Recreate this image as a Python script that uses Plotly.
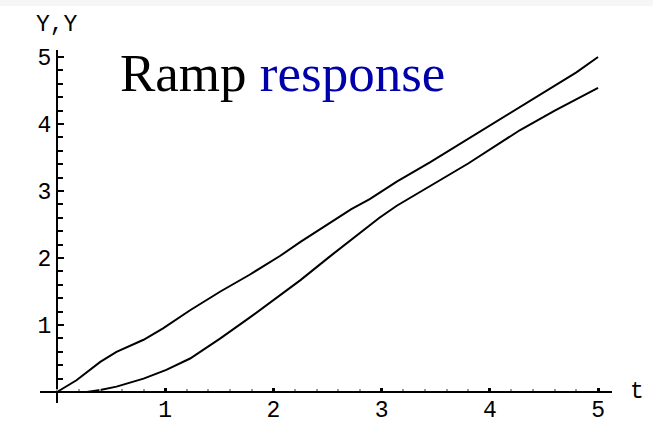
import plotly.graph_objects as go

# Ramp response of the two outputs, sampled over t in [0, 5]
t_fast = [0, 0.18, 0.4, 0.55, 0.8, 0.98, 1.23, 1.51, 1.78, 2.06, 2.25, 2.52, 2.72,
          2.89, 3.14, 3.45, 3.8, 4.19, 4.5, 4.8, 5.0]
y_fast = [0, 0.175, 0.45, 0.60, 0.78, 0.95, 1.22, 1.50, 1.75, 2.03, 2.24, 2.52, 2.73,
          2.88, 3.14, 3.43, 3.78, 4.17, 4.48, 4.77, 5.0]

t_slow = [0, 0.275, 0.4, 0.55, 0.8, 1.01, 1.23, 1.51, 1.78, 2.06, 2.25, 2.52, 2.75,
          2.98, 3.14, 3.45, 3.8, 4.28, 4.6, 5.0]
y_slow = [0, 0.0, 0.03, 0.08, 0.2, 0.33, 0.5, 0.8, 1.11, 1.45, 1.67, 2.02, 2.31,
          2.6, 2.78, 3.07, 3.41, 3.91, 4.2, 4.54]

tick_vals = [1, 2, 3, 4, 5]
tick_text = ["1", "2", "3", "4", "5"]

W, H = 653, 423
L, R, T, B = 40, 41, 50, 20
pw, ph = W - L - R, H - T - B

x_range = [-0.157, 5.129]
y_range = [-0.164, 5.104]

mono = "Liberation Mono, Courier New, monospace"

fig = go.Figure()
for tx, ty in ((t_fast, y_fast), (t_slow, y_slow)):
    fig.add_trace(go.Scatter(x=tx, y=ty, mode="lines",
                             line=dict(color="black", width=2),
                             showlegend=False, hoverinfo="skip"))

x0_frac = (0 - x_range[0]) / (x_range[1] - x_range[0])
y0_frac = (0 - y_range[0]) / (y_range[1] - y_range[0])

fig.update_layout(
    width=W, height=H,
    margin=dict(l=L, r=R, t=T, b=B, autoexpand=False),
    paper_bgcolor="white", plot_bgcolor="white",
    xaxis=dict(range=x_range, anchor="free", position=y0_frac, automargin=False,
               showgrid=False, zeroline=False,
               showline=True, linecolor="black", linewidth=2,
               tickmode="array", tickvals=tick_vals, ticktext=tick_text,
               ticks="inside", ticklen=3, tickwidth=3, tickcolor="black",
               ticklabelstandoff=-4,
               minor=dict(tickmode="linear", tick0=0, dtick=0.2, ticks="inside",
                          ticklen=2, tickwidth=2, tickcolor="#9a9a9a"),
               tickfont=dict(family=mono, size=23, color="black")),
    yaxis=dict(range=y_range, anchor="free", position=x0_frac, automargin=False,
               showgrid=False, zeroline=False,
               showline=True, linecolor="black", linewidth=2,
               tickmode="array", tickvals=tick_vals, ticktext=tick_text,
               ticks="inside", ticklen=6, tickwidth=2, tickcolor="black",
               minor=dict(tickmode="linear", tick0=0, dtick=0.2, ticks="inside",
                          ticklen=5, tickwidth=2, tickcolor="black"),
               tickfont=dict(family=mono, size=23, color="black")),
)

# Axis names
fig.add_annotation(x=5.129, y=0, xref="x", yref="y", text="t", showarrow=False,
                   xanchor="left", xshift=16, yshift=0,
                   font=dict(family=mono, size=23, color="black"))
fig.add_annotation(x=0, y=5.104, xref="x", yref="y", text="Y,Y", showarrow=False,
                   xanchor="center", yanchor="bottom", yshift=10, xshift=0,
                   font=dict(family=mono, size=23, color="black"))

# Title inside the plot
fig.add_annotation(x=0.56, y=4.76, xref="x", yref="y", xanchor="left", yanchor="middle",
                   text='Ramp <span style="color:#0000AA">response</span>',
                   showarrow=False,
                   font=dict(family="Liberation Serif, Times New Roman, serif",
                             size=53, color="black"))

# Light band along the top edge
fig.add_shape(type="rect", xref="paper", yref="paper",
              x0=-L / pw, x1=1 + R / pw, y0=1 + (T - 6) / ph, y1=1 + T / ph,
              fillcolor="#f6f6f6", line=dict(width=0), layer="below")

fig.write_html("out.html")
